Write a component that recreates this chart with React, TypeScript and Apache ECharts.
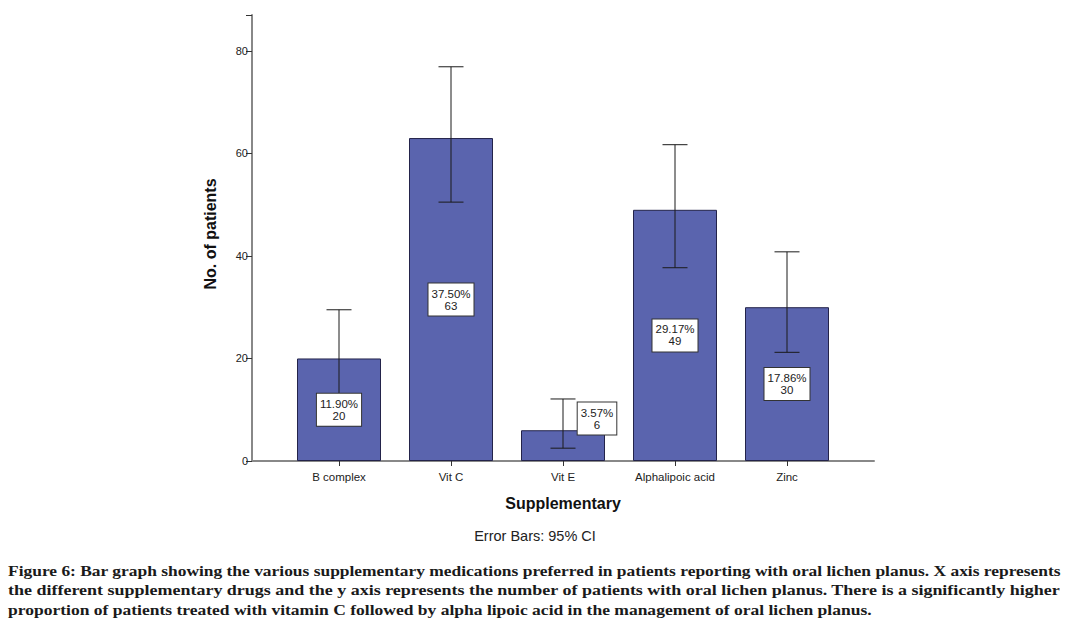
import React, { useEffect, useRef } from "react";
import * as echarts from "echarts";

const categories = ["B complex", "Vit C", "Vit E", "Alphalipoic acid", "Zinc"];
const counts = [20, 63, 6, 49, 30];
const percents = ["11.90%", "37.50%", "3.57%", "29.17%", "17.86%"];
const ciLower = [12.9, 50.5, 2.5, 37.7, 21.2];
const ciUpper = [29.5, 76.9, 12.1, 61.7, 40.8];
const yTicks = [0, 20, 40, 60, 80];

const captionLines = [
  "Figure 6: Bar graph showing the various supplementary medications preferred in patients reporting with oral lichen planus. X axis represents",
  "the different supplementary drugs and the y axis represents the number of patients with oral lichen planus. There is a significantly higher",
  "proportion of patients treated with vitamin C followed by alpha lipoic acid in the management of oral lichen planus.",
];
const captionScale = [1.162, 1.2, 1.168];

export default function App() {
  const ref = useRef<HTMLDivElement>(null);
  useEffect(() => {
    document.body.style.margin = "0";
    if (!ref.current) return;
    const chart = echarts.init(ref.current, undefined, { renderer: "svg" });
    const sans = "'Liberation Sans', Arial, sans-serif";
    const yMax = 87;
    const option: any = {
      animation: false,
      backgroundColor: "#ffffff",
      grid: [
        { left: 283, width: 560, top: 15, bottom: 168 },
        { left: 252, right: 203, top: 15, bottom: 168 },
      ],
      xAxis: [
        {
          type: "category",
          gridIndex: 0,
          data: categories,
          axisLine: { show: false },
          axisTick: { show: true, alignWithLabel: true, length: 5, lineStyle: { color: "#333" } },
          axisLabel: { fontFamily: sans, fontSize: 11.5, color: "#222", margin: 10 },
          splitLine: { show: false },
        },
        {
          type: "value",
          gridIndex: 1,
          min: 0,
          max: 1,
          axisLine: { show: true, lineStyle: { color: "#888", width: 2 } },
          axisTick: { show: false },
          axisLabel: { show: false },
          splitLine: { show: false },
          name: "Supplementary",
          nameLocation: "middle",
          nameGap: 34,
          nameTextStyle: { fontFamily: sans, fontSize: 16, fontWeight: "bold", color: "#111" },
        },
      ],
      yAxis: [
        {
          type: "value",
          gridIndex: 0,
          min: 0,
          max: yMax,
          show: false,
          splitLine: { show: false },
        },
        {
          type: "value",
          gridIndex: 1,
          min: 0,
          max: yMax,
          interval: 20,
          axisLine: { show: true, lineStyle: { color: "#888", width: 2 } },
          axisTick: { show: true, length: 6, lineStyle: { color: "#333" } },
          axisLabel: {
            fontFamily: sans,
            fontSize: 11,
            color: "#222",
            margin: 4,
            formatter: (v: number) => (yTicks.includes(v) ? String(v) : ""),
          },
          splitLine: { show: false },
          name: "No. of patients",
          nameLocation: "middle",
          nameGap: 34,
          nameRotate: 90,
          nameTextStyle: { fontFamily: sans, fontSize: 16, fontWeight: "bold", color: "#111", padding: [0, 0, 0, 8] },
        },
      ],
      series: [
        {
          type: "bar",
          xAxisIndex: 0,
          yAxisIndex: 0,
          data: counts,
          barCategoryGap: "25%",
          z: 2,
          itemStyle: { color: "#5a64ae", borderColor: "#23234a", borderWidth: 1 },
        },
        {
          type: "custom",
          xAxisIndex: 0,
          yAxisIndex: 0,
          z: 3,
          data: categories.map((_, i) => [i, ciLower[i], ciUpper[i]]),
          encode: { x: 0, y: [1, 2] },
          renderItem: (params: any, api: any) => {
            const x = api.value(0);
            const lo = api.coord([x, api.value(1)]);
            const hi = api.coord([x, api.value(2)]);
            const hw = 12.5;
            const style = { stroke: "#1a1a1a", lineWidth: 1 };
            return {
              type: "group",
              children: [
                { type: "line", shape: { x1: hi[0], y1: hi[1], x2: lo[0], y2: lo[1] }, style },
                { type: "line", shape: { x1: hi[0] - hw, y1: hi[1], x2: hi[0] + hw, y2: hi[1] }, style },
                { type: "line", shape: { x1: lo[0] - hw, y1: lo[1], x2: lo[0] + hw, y2: lo[1] }, style },
              ],
            };
          },
        },
        {
          type: "bar",
          xAxisIndex: 0,
          yAxisIndex: 0,
          barGap: "-100%",
          barCategoryGap: "25%",
          z: 4,
          silent: true,
          itemStyle: { color: "rgba(0,0,0,0)" },
          data: counts.map((v, i) =>
            i === 2
              ? { value: v, label: { offset: [34, -27] } }
              : { value: v }
          ),
          label: {
            show: true,
            position: "inside",
            formatter: (p: any) => percents[p.dataIndex] + "\n" + counts[p.dataIndex],
            fontFamily: sans,
            fontSize: 11.5,
            lineHeight: 12,
            color: "#222",
            backgroundColor: "#ffffff",
            borderColor: "#333",
            borderWidth: 1,
            padding: [4, 3, 4, 3],
            align: "center",
          },
        },
      ],
      graphic: [
        {
          type: "text",
          x: 535,
          y: 536,
          style: {
            text: "Error Bars: 95% CI",
            fontFamily: sans,
            fontSize: 14.5,
            fill: "#222",
            textAlign: "center",
            textVerticalAlign: "middle",
          },
        },
        ...captionLines.map((t, i) => ({
          type: "text",
          x: 8,
          y: 571 + i * 19.5,
          scaleX: captionScale[i],
          style: {
            text: t,
            fontFamily: "'Liberation Serif', 'Times New Roman', serif",
            fontWeight: "bold",
            fontSize: 15,
            fill: "#1a1a1a",
            textAlign: "left",
            textVerticalAlign: "middle",
          },
        })),
      ],
    };
    chart.setOption(option);
    return () => chart.dispose();
  }, []);
  return <div ref={ref} style={{ width: 1077, height: 629 }} />;
}
